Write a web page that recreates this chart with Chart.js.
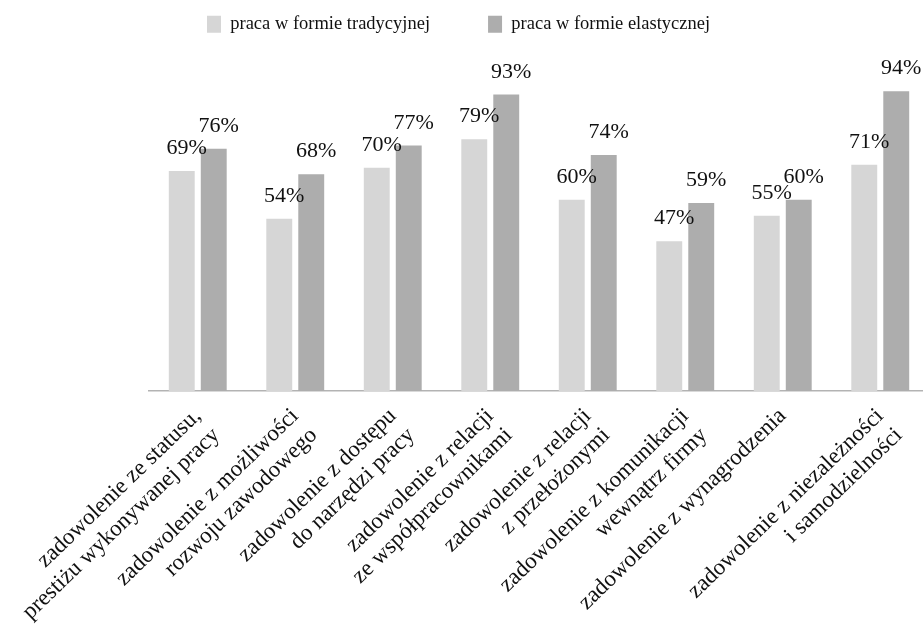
<!DOCTYPE html>
<html>
<head>
<meta charset="utf-8">
<script src="https://cdn.jsdelivr.net/npm/chart.js@4.4.1/dist/chart.umd.min.js"></script>
<style>
  html, body { margin: 0; padding: 0; background: #fff; overflow: hidden; }
  #wrap { width: 931px; height: 634px; }
</style>
</head>
<body>
<div id="wrap"><canvas id="chart" width="931" height="634"></canvas></div>
<script>
// categories (two-line labels as in the original)
const categories = [
    ['zadowolenie ze statusu,', 'prestiżu wykonywanej pracy'],
    ['zadowolenie z możliwości', 'rozwoju zawodowego'],
    ['zadowolenie z dostępu', 'do narzędzi pracy'],
    ['zadowolenie z relacji', 'ze współpracownikami'],
    ['zadowolenie z relacji', 'z przełożonymi'],
    ['zadowolenie z komunikacji', 'wewnątrz firmy'],
    ['zadowolenie z wynagrodzenia'],
    ['zadowolenie z niezależności', 'i samodzielności']
];
const seriesNames = ['praca w formie tradycyjnej', 'praca w formie elastycznej'];
const traditional = [69, 54, 70, 79, 60, 47, 55, 71];
const flexible = [76, 68, 77, 93, 74, 59, 60, 94];

const SERIF = '"Liberation Serif", "Times New Roman", serif';

// percent labels above every bar
const pctLabels = {
    id: 'pctLabels',
    afterDatasetsDraw(chart) {
        const ctx = chart.ctx;
        ctx.save();
        ctx.font = '22px ' + SERIF;
        ctx.fillStyle = '#111';
        ctx.textAlign = 'center';
        ctx.textBaseline = 'alphabetic';
        chart.data.datasets.forEach((ds, i) => {
            chart.getDatasetMeta(i).data.forEach((bar, j) => {
                ctx.fillText(ds.data[j] + '%', bar.x + 5, bar.y - 17);
            });
        });
        ctx.restore();
    }
};

new Chart(document.getElementById('chart'), {
    type: 'bar',
    data: {
        labels: categories,
        datasets: [
            { label: seriesNames[0], data: traditional, backgroundColor: '#d6d6d6' },
            { label: seriesNames[1], data: flexible, backgroundColor: '#adadad' }
        ]
    },
    options: {
        responsive: false,
        animation: false,
        categoryPercentage: 0.656,
        barPercentage: 0.81,
        // negative top so the wide legend spacing doesn't push it down
        layout: { padding: { left: 149, right: 2, top: -43, bottom: 0 } },
        plugins: {
            tooltip: { enabled: false },
            legend: {
                position: 'top',
                align: 'start',
                labels: {
                    color: '#111',
                    font: { family: SERIF, size: 18.5 },
                    boxWidth: 14,
                    boxHeight: 17,
                    padding: 58
                }
            }
        },
        scales: {
            x: {
                grid: { display: false, drawTicks: false },
                border: { display: true, color: '#b3b3b3', width: 1.5 },
                ticks: {
                    color: '#111',
                    font: { family: SERIF, size: 23, lineHeight: 1.17 },
                    minRotation: 44,
                    maxRotation: 44,
                    padding: 12,
                    autoSkip: false
                },
                afterFit: s => {
                    s.height = 243;
                    s.paddingLeft = 0;
                    s.paddingRight = 0;
                }
            },
            y: {
                display: false,
                min: 0,
                max: 109
            }
        }
    },
    plugins: [pctLabels]
});
</script>
</body>
</html>
